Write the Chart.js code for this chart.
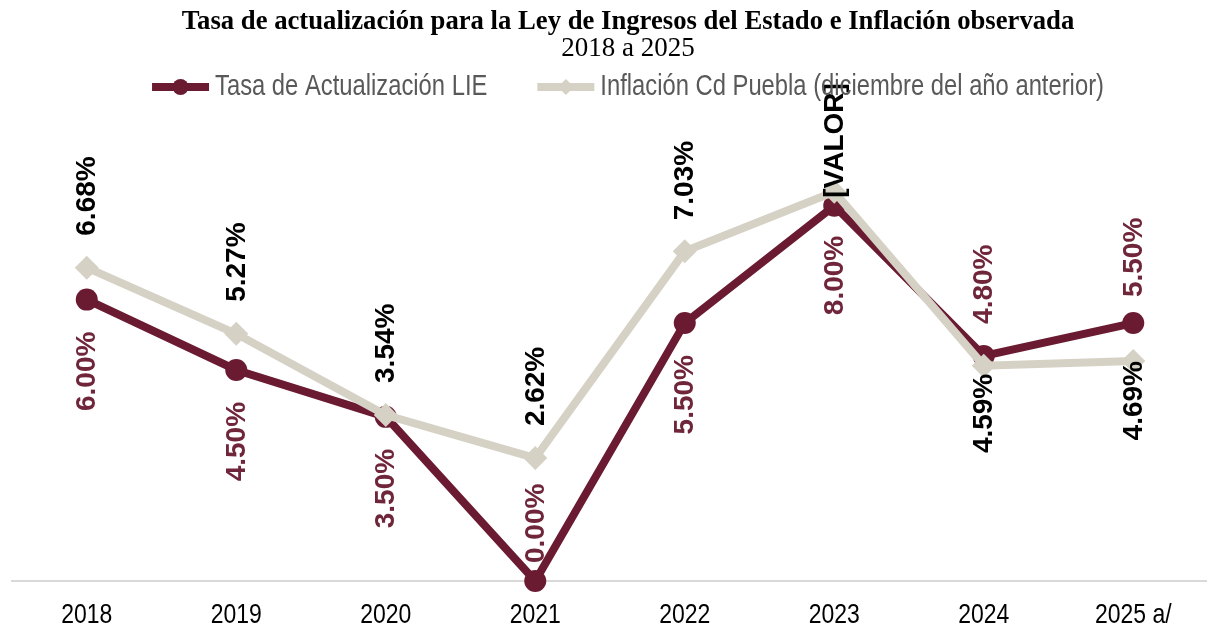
<!DOCTYPE html>
<html lang="es">
<head>
<meta charset="utf-8">
<title>Tasa de actualización LIE e inflación</title>
<script src="https://cdn.jsdelivr.net/npm/chart.js@4.4.1/dist/chart.umd.min.js"></script>
<style>
    html, body { margin: 0; padding: 0; background: #fff; overflow: hidden; }
    #wrap { width: 1220px; height: 627px; }
</style>
</head>
<body>
<div id="wrap"><canvas id="myChart" width="1220" height="627"></canvas></div>
<script>
const years = ['2018', '2019', '2020', '2021', '2022', '2023', '2024', '2025 a/'];
const tasaLIE = [6.00, 4.50, 3.50, 0.00, 5.50, 8.00, 4.80, 5.50];
const inflacionPuebla = [6.68, 5.27, 3.54, 2.62, 7.03, 8.30, 4.59, 4.69];

const serieLIE = 'Tasa de Actualización LIE';
const serieInflacion = 'Inflación Cd Puebla (diciembre del año anterior)';
const titulo = 'Tasa de actualización para la Ley de Ingresos del Estado e Inflación observada';
const subtitulo = '2018 a 2025';

const etiquetasLIE = tasaLIE.map(v => v.toFixed(2) + '%');
const etiquetasInflacion = inflacionPuebla.map((v, i) => i === 5 ? '[VALOR]' : v.toFixed(2) + '%');

// where each rotated label sits relative to its point
const posLIE = ['below', 'below', 'below', 'above', 'below', 'below', 'above', 'above'];
const gapLIE = [32, 32, 32, 18, 32, 30, 32, 26];
const posInflacion = ['above', 'above', 'above', 'above', 'above', 'above', 'below', 'below'];
const gapInflacion = [32, 32, 32, 32, 31, -6, 8, 0];

const GUINDA = '#6A1B32';
const BEIGE = '#D6D1C5';
const SANS = '"Liberation Sans", Arial, sans-serif';
const NARROW_X = 0.82; // no narrow font installed, squeeze Arial instead

// draws text squeezed horizontally, like Arial Narrow
function narrowText(ctx, text, x, y, align) {
    const w = ctx.measureText(text).width * NARROW_X;
    let left = x;
    if (align === 'center') left = x - w / 2;
    if (align === 'right') left = x - w;
    ctx.save();
    ctx.translate(left, y);
    ctx.scale(NARROW_X, 1);
    ctx.textAlign = 'left';
    ctx.fillText(text, 0, 0);
    ctx.restore();
    return w;
}

const rotatedLabels = {
    id: 'rotatedLabels',
    afterDatasetsDraw(chart) {
        const ctx = chart.ctx;
        chart.data.datasets.forEach((ds, di) => {
            const meta = chart.getDatasetMeta(di);
            meta.data.forEach((pt, i) => {
                const above = ds.labelPos[i] === 'above';
                const gap = ds.labelGap[i];
                ctx.save();
                ctx.translate(pt.x, above ? pt.y - gap : pt.y + gap);
                ctx.rotate(-Math.PI / 2);
                ctx.font = 'bold 28px ' + SANS;
                ctx.fillStyle = ds.labelColor;
                ctx.textBaseline = 'middle';
                ctx.textAlign = above ? 'left' : 'right';
                ctx.fillText(ds.labelText[i], 0, 1);
                ctx.restore();
            });
        });
    }
};

// x tick labels, placed with the category scale
const narrowTicks = {
    id: 'narrowTicks',
    afterDraw(chart) {
        const ctx = chart.ctx;
        const xScale = chart.scales.x;
        ctx.save();
        ctx.font = '28px ' + SANS;
        ctx.fillStyle = '#000';
        ctx.textBaseline = 'alphabetic';
        chart.data.labels.forEach((lab, i) => {
            narrowText(ctx, lab, xScale.getPixelForValue(i), 623, 'center');
        });
        ctx.restore();
    }
};

const headerAndLegend = {
    id: 'headerAndLegend',
    afterDraw(chart) {
        const ctx = chart.ctx;
        const cx = 628;
        ctx.save();
        ctx.fillStyle = '#000';
        ctx.textAlign = 'center';
        ctx.textBaseline = 'alphabetic';
        ctx.font = 'bold 26.7px "Liberation Serif", "Times New Roman", serif';
        ctx.fillText(titulo, cx, 29);
        ctx.font = '27px "Liberation Serif", "Times New Roman", serif';
        ctx.fillText(subtitulo, cx, 56);

        // legend row: line + marker, then text
        const y = 87;
        const symW = 57, symGap = 6, itemGap = 50;
        ctx.font = '29px ' + SANS;
        const items = [
            { text: serieLIE, color: GUINDA, style: 'circle' },
            { text: serieInflacion, color: BEIGE, style: 'diamond' }
        ];
        items.forEach(it => { it.w = ctx.measureText(it.text).width * NARROW_X; });
        const total = items.reduce((s, it) => s + symW + symGap + it.w, 0) + itemGap;
        let x = cx - total / 2;
        items.forEach(it => {
            ctx.strokeStyle = it.color;
            ctx.fillStyle = it.color;
            ctx.lineWidth = 8;
            ctx.lineCap = 'butt';
            ctx.beginPath();
            ctx.moveTo(x, y);
            ctx.lineTo(x + symW, y);
            ctx.stroke();
            const mx = x + symW / 2, r = 8;
            ctx.beginPath();
            if (it.style === 'circle') {
                ctx.arc(mx, y, r, 0, Math.PI * 2);
            } else {
                ctx.moveTo(mx - r, y);
                ctx.lineTo(mx, y - r);
                ctx.lineTo(mx + r, y);
                ctx.lineTo(mx, y + r);
                ctx.closePath();
            }
            ctx.fill();
            ctx.fillStyle = '#595959';
            ctx.textBaseline = 'middle';
            narrowText(ctx, it.text, x + symW + symGap, y, 'left');
            x += symW + symGap + it.w + itemGap;
        });
        ctx.restore();
    }
};

document.addEventListener('DOMContentLoaded', function () {
    const ctx = document.getElementById('myChart').getContext('2d');

    new Chart(ctx, {
        type: 'line',
        data: {
            labels: years,
            datasets: [{
                label: serieLIE,
                data: tasaLIE,
                borderColor: GUINDA,
                backgroundColor: GUINDA,
                borderWidth: 8,
                pointStyle: 'circle',
                pointRadius: 11,
                pointBorderWidth: 0,
                pointBackgroundColor: GUINDA,
                tension: 0,
                clip: false,
                order: 2,
                labelText: etiquetasLIE,
                labelPos: posLIE,
                labelGap: gapLIE,
                labelColor: '#70263A'
            }, {
                label: serieInflacion,
                data: inflacionPuebla,
                borderColor: BEIGE,
                backgroundColor: BEIGE,
                borderWidth: 8,
                pointStyle: 'rectRot',
                pointRadius: 12,
                pointBorderWidth: 0,
                pointBackgroundColor: BEIGE,
                tension: 0,
                clip: false,
                order: 1,
                labelText: etiquetasInflacion,
                labelPos: posInflacion,
                labelGap: gapInflacion,
                labelColor: '#000'
            }]
        },
        options: {
            responsive: false,
            animation: false,
            layout: {
                padding: { top: 112, left: 11, right: 8, bottom: 38 }
            },
            plugins: {
                legend: { display: false },
                title: { display: false },
                tooltip: { enabled: false }
            },
            scales: {
                x: {
                    offset: true,
                    grid: { display: false, offset: false },
                    border: { display: true, color: '#D9D9D9', width: 2 },
                    ticks: { display: false }
                },
                y: {
                    display: false,
                    min: 0,
                    max: 10
                }
            }
        },
        plugins: [rotatedLabels, narrowTicks, headerAndLegend]
    });
});
</script>
</body>
</html>
